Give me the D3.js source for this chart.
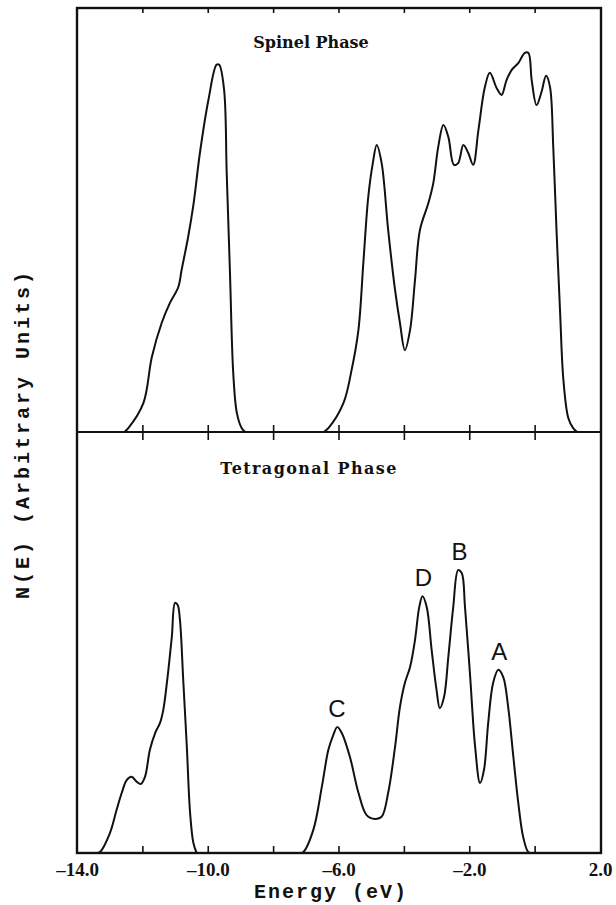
<!DOCTYPE html>
<html>
<head>
<meta charset="utf-8">
<script src="https://cdnjs.cloudflare.com/ajax/libs/d3/7.8.5/d3.min.js"></script>
<style>
  html, body { margin: 0; padding: 0; background: #fff; }
  svg { display: block; }
</style>
</head>
<body>
<div id="chart"></div>
<script>
// Density of states (energy in eV, N(E) in arbitrary units)
const spinelEnergy = [-14, -12.55, -12.43, -11.97, -11.71, -11.41, -11.16, -10.90, -10.80, -10.60, -10.44,
  -10.24, -9.98, -9.73, -9.65, -9.50, -9.42, -9.32, -9.22, -9.11, -8.96, -8.85,
  -6.45, -6.31, -5.85, -5.60, -5.39, -5.24, -5.09, -4.95, -4.83, -4.68, -4.48, -4.27, -4.12,
  -3.97, -3.81, -3.66, -3.51, -3.25, -3.10, -2.95, -2.79, -2.64, -2.47, -2.34, -2.18, -2.03,
  -1.88, -1.72, -1.52, -1.37, -1.16, -1.01, -0.86, -0.70, -0.50, -0.30, -0.19, -0.09, 0.06,
  0.21, 0.35, 0.47, 0.57, 0.67, 0.78, 0.88, 1.03, 1.18, 1.30, 2];
const spinelDos = [0, 0, 0.09, 0.68, 1.77, 2.57, 3.04, 3.42, 3.82, 4.60, 5.35,
  6.58, 7.83, 8.66, 8.66, 8.07, 6.11, 3.75, 1.39, 0.45, 0.09, 0,
  0, 0.09, 0.68, 1.46, 2.41, 3.99, 5.54, 6.34, 6.77, 6.34, 4.76, 3.35, 2.57,
  1.93, 2.41, 3.58, 4.76, 5.40, 5.87, 6.72, 7.24, 6.96, 6.30, 6.34, 6.77, 6.58,
  6.30, 7.12, 8.14, 8.47, 8.11, 7.95, 8.30, 8.54, 8.70, 8.94, 8.94, 8.30, 7.71,
  8.02, 8.40, 8.14, 6.72, 4.76, 2.81, 1.23, 0.33, 0.09, 0, 0];

const tetragonalEnergy = [-14, -13.40, -13.30, -12.99, -12.79, -12.63, -12.48, -12.33, -12.17, -12.05, -11.92,
  -11.77, -11.61, -11.46, -11.36, -11.24, -11.10, -11.00, -10.92, -10.85, -10.75, -10.64,
  -10.54, -10.44, -10.34,
  -7.20, -7.08, -6.77, -6.51, -6.31, -6.16, -6.04, -5.90, -5.65, -5.39, -5.14, -4.88, -4.68,
  -4.48, -4.27, -4.12, -3.97, -3.81, -3.66, -3.53, -3.43, -3.30, -3.15, -3.00, -2.90, -2.77,
  -2.64, -2.49, -2.34, -2.23, -2.13, -1.98, -1.82, -1.67, -1.55, -1.42, -1.27, -1.11, -0.96,
  -0.81, -0.65, -0.50, -0.35, -0.19, -0.05, 2];
const tetragonalDos = [0, 0, 0.02, 0.48, 1.02, 1.43, 1.73, 1.81, 1.69, 1.64, 1.81,
  2.45, 2.85, 3.09, 3.40, 4.11, 5.13, 5.94, 5.89, 5.53, 4.11, 2.52,
  0.95, 0.24, 0,
  0, 0.02, 0.55, 1.57, 2.45, 2.80, 2.99, 2.85, 2.28, 1.43, 0.90, 0.81, 0.86,
  1.43, 2.52, 3.47, 4.04, 4.42, 5.06, 5.84, 6.10, 5.84, 4.82, 3.87, 3.44, 3.71,
  4.66, 5.84, 6.72, 6.65, 5.84, 4.28, 2.52, 1.66, 1.97, 3.09, 4.04, 4.35, 4.18,
  3.47, 2.28, 1.19, 0.38, 0.02, 0, 0];

const peakNames = ['C', 'D', 'B', 'A'];
const peakEnergies = [-6.05, -3.40, -2.30, -1.08];

const tickValues = [-12, -10, -8, -6, -4, -2, 0];
const tickLabelValues = [-14, -10, -6, -2, 2];

const width = 616;
const height = 905;
const frame = { left: 77, right: 601, top: 8, middle: 432, bottom: 853 };

const svg = d3.select('#chart')
  .append('svg')
  .attr('width', width)
  .attr('height', height);

svg.append('rect')
  .attr('width', width)
  .attr('height', height)
  .attr('fill', '#fff');

const x = d3.scaleLinear()
  .domain([-14, 2])
  .range([frame.left, 600]);

const yTop = d3.scaleLinear()
  .domain([0, 10])
  .range([frame.middle, frame.top]);

const yBottom = d3.scaleLinear()
  .domain([0, 10])
  .range([frame.bottom, frame.middle]);

const ink = '#111';

/**
 * Split a series into lobes: each runs from a zero point to the next zero point,
 * so the spline never has to bridge the long empty stretches of baseline.
 */
function lobes(energy, dos) {
  const out = [];
  let cur = null;
  energy.forEach((e, i) => {
    const p = [e, dos[i]];
    if (dos[i] === 0) {
      if (cur) { cur.push(p); out.push(cur); cur = null; }
      if (i + 1 < dos.length && dos[i + 1] !== 0) cur = [p];
    } else if (cur) {
      cur.push(p);
    }
  });
  return out;
}

function drawCurve(energy, dos, yScale) {
  const line = d3.line()
    .x(d => x(d[0]))
    .y(d => yScale(d[1]))
    .curve(d3.curveCatmullRom.alpha(0.5));
  svg.append('g')
    .selectAll('path')
    .data(lobes(energy, dos))
    .join('path')
    .attr('d', line)
    .attr('fill', 'none')
    .attr('stroke', ink)
    .attr('stroke-width', 2)
    .attr('stroke-linejoin', 'round');
}

drawCurve(spinelEnergy, spinelDos, yTop);
drawCurve(tetragonalEnergy, tetragonalDos, yBottom);

// Frame and panel divider
svg.append('rect')
  .attr('x', frame.left)
  .attr('y', frame.top)
  .attr('width', frame.right - frame.left)
  .attr('height', frame.bottom - frame.top)
  .attr('fill', 'none')
  .attr('stroke', ink)
  .attr('stroke-width', 2.4);

svg.append('line')
  .attr('x1', frame.left)
  .attr('x2', frame.right)
  .attr('y1', frame.middle)
  .attr('y2', frame.middle)
  .attr('stroke', ink)
  .attr('stroke-width', 2);

// Tick marks
function tickAxis(axis, y) {
  const g = svg.append('g')
    .attr('transform', `translate(0,${y})`)
    .call(axis);
  g.select('.domain').remove();
  g.selectAll('.tick line').attr('stroke', ink).attr('stroke-width', 1.6);
  return g;
}

tickAxis(d3.axisBottom(x).tickValues(tickValues).tickSize(-7).tickFormat(''), frame.bottom);
tickAxis(d3.axisBottom(x).tickValues(tickValues).tickSize(8).tickFormat(''), frame.middle);
tickAxis(d3.axisTop(x).tickValues(tickValues).tickSize(7).tickFormat(''), frame.middle);
tickAxis(d3.axisTop(x).tickValues(tickValues).tickSize(-5).tickFormat(''), frame.top);

// Tick labels
const labelAxis = tickAxis(
  d3.axisBottom(x).tickValues(tickLabelValues).tickSize(0).tickPadding(10)
    .tickFormat(d => d3.format('.1f')(d).replace('−', '\u2013')),
  frame.bottom);
labelAxis.selectAll('.tick text')
  .attr('fill', ink)
  .style('font-family', '"Liberation Serif", serif')
  .style('font-weight', 'bold')
  .style('font-size', '19px');

// Axis titles
svg.append('text')
  .attr('x', 331)
  .attr('y', 898)
  .attr('text-anchor', 'middle')
  .style('font-family', '"Liberation Mono", monospace')
  .style('font-weight', 'bold')
  .style('font-size', '20px')
  .style('letter-spacing', '2px')
  .attr('fill', ink)
  .text('Energy (eV)');

svg.append('text')
  .attr('transform', 'translate(29,434) rotate(-90)')
  .attr('text-anchor', 'middle')
  .style('font-family', '"Liberation Mono", monospace')
  .style('font-weight', 'bold')
  .style('font-size', '20px')
  .style('letter-spacing', '3px')
  .attr('fill', ink)
  .text('N(E) (Arbitrary Units)');

// Panel titles
svg.append('text')
  .attr('x', 311)
  .attr('y', 48)
  .attr('text-anchor', 'middle')
  .style('font-family', '"DejaVu Serif", serif')
  .style('font-weight', 'bold')
  .style('font-size', '16px')
  .attr('fill', ink)
  .text('Spinel Phase');

svg.append('text')
  .attr('x', 309)
  .attr('y', 474)
  .attr('text-anchor', 'middle')
  .style('font-family', '"DejaVu Serif", serif')
  .style('font-weight', 'bold')
  .style('font-size', '16px')
  .style('letter-spacing', '1.4px')
  .attr('fill', ink)
  .text('Tetragonal Phase');

// Peak labels, placed just above the local maximum of the tetragonal curve
peakNames.forEach((name, i) => {
  const e = peakEnergies[i];
  let top = 0;
  tetragonalEnergy.forEach((en, j) => {
    if (Math.abs(en - e) < 0.3) top = Math.max(top, tetragonalDos[j]);
  });
  svg.append('text')
    .attr('x', x(e))
    .attr('y', yBottom(top) - 10)
    .attr('text-anchor', 'middle')
    .style('font-family', '"Liberation Sans", Arial, sans-serif')
    .style('font-size', '24px')
    .attr('fill', ink)
    .text(name);
});
</script>
</body>
</html>
